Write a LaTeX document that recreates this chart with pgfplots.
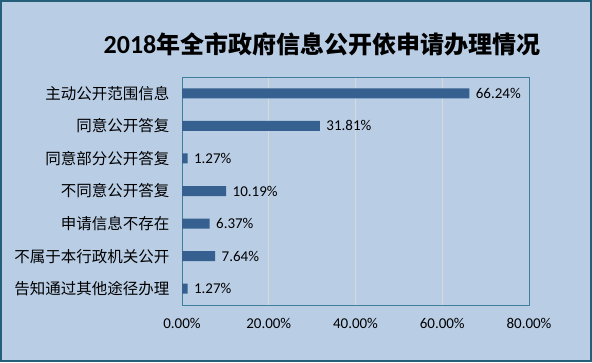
\documentclass[border=0pt]{standalone}
\usepackage{fontspec}
\setmainfont{Carlito}
\newfontfamily\cjk{Noto Sans CJK SC}
\usepackage{pgfplots}
\pgfplotsset{compat=1.18}
\definecolor{bgc}{HTML}{B9CDE5}
\definecolor{barc}{HTML}{36608F}
\definecolor{axc}{HTML}{3F7E9C}
\definecolor{framec}{HTML}{245E78}
\definecolor{gridc}{HTML}{D9D9D9}
\begin{document}
\begin{tikzpicture}[x=1bp,y=1bp]
\useasboundingbox (0,0) rectangle (592,362);
\fill[bgc] (0,0) rectangle (592,362);
\draw[framec, line width=2bp] (1,1) rectangle (591,361);
\node[anchor=base, inner sep=0pt] at (322,309) {\bfseries{\fontsize{26bp}{28bp}\selectfont 2018}{\fontsize{24bp}{28bp}\selectfont\cjk 年全市政府信息公开依申请办理情况}};
\begin{axis}[
  at={(182bp,57bp)}, anchor=south west,
  scale only axis, width=347bp, height=228bp,
  xbar, bar width=10bp,
  xmin=0, xmax=80, ymin=-0.5, ymax=6.5,
  y dir=reverse,
  ytick={0,1,2,3,4,5,6},
  yticklabels={主动公开范围信息,同意公开答复,同意部分公开答复,不同意公开答复,申请信息不存在,不属于本行政机关公开,告知通过其他途径办理},
  xtick={0,20,40,60,80},
  major tick length=0pt,
  xmajorgrids, grid style={color=gridc, line width=0.8pt},
  axis line style={color=axc, line width=1pt},
  /pgf/number format/assume math mode=true,
  xticklabel={\pgfmathprintnumber[fixed,fixed zerofill,precision=2]{\tick}\%},
  xticklabel style={font=\fontsize{15bp}{17bp}\selectfont, yshift=-10bp},
  yticklabel style={font=\cjk\fontsize{15.5bp}{18bp}\selectfont, xshift=-9bp},
  nodes near coords={\pgfmathprintnumber[fixed,fixed zerofill,precision=2]{\pgfplotspointmeta}\%},
  nodes near coords style={font=\fontsize{15bp}{17bp}\selectfont, anchor=west, xshift=3bp},
  point meta=x,
]
\addplot[fill=barc, draw=none] coordinates {(66.24,0) (31.81,1) (1.27,2) (10.19,3) (6.37,4) (7.64,5) (1.27,6)};
\end{axis}
\end{tikzpicture}
\end{document}
